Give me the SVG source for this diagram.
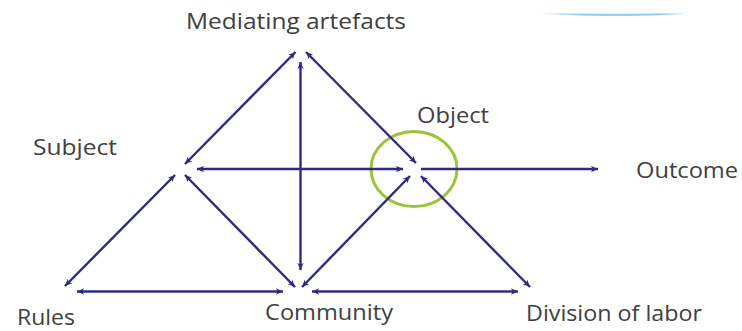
<svg xmlns="http://www.w3.org/2000/svg" width="742" height="331" viewBox="0 0 742 331">
<defs>
<style>
.lbl{font-family:"Open Sans","Noto Sans","Liberation Sans",sans-serif;font-size:21px;fill:#404040}
.ln{stroke:#2f2a82;stroke-width:2.4;fill:none;marker-end:url(#ah)}
.dbl{marker-start:url(#ahs)}
</style>
<marker id="ah" viewBox="0 0 10 10" refX="10" refY="5" markerWidth="9" markerHeight="7" markerUnits="userSpaceOnUse" orient="auto">
<path d="M0,0.5 L10,5 L0,9.5 L2.5,5 Z" fill="#2f2a82"/>
</marker>
<marker id="ahs" viewBox="0 0 10 10" refX="0" refY="5" markerWidth="9" markerHeight="7" markerUnits="userSpaceOnUse" orient="auto">
<path d="M10,0.5 L0,5 L10,9.5 L7.5,5 Z" fill="#2f2a82"/>
</marker>
<linearGradient id="arc" x1="0" x2="1" y1="0" y2="0">
<stop offset="0" stop-color="#8fd0ee" stop-opacity="0"/>
<stop offset="0.3" stop-color="#8fd0ee"/>
<stop offset="0.8" stop-color="#8fd0ee"/>
<stop offset="1" stop-color="#8fd0ee" stop-opacity="0"/>
</linearGradient>
</defs>
<rect width="742" height="331" fill="#ffffff"/>
<path d="M540,13.5 Q615,17.5 690,13.5 Q615,15 540,13.5 Z" fill="url(#arc)" stroke="url(#arc)" stroke-width="1.2"/>
<ellipse cx="414" cy="169" rx="43" ry="37.5" fill="none" stroke="#9dc33b" stroke-width="3"/>
<g id="connectors">
<line class="ln dbl" x1="295.5" y1="52" x2="185" y2="164"/>
<line class="ln dbl" x1="306" y1="52" x2="416" y2="163"/>
<line class="ln dbl" x1="300.5" y1="62" x2="300.5" y2="270"/>
<line class="ln dbl" x1="197" y1="169" x2="403" y2="169"/>
<line class="ln" x1="421" y1="169" x2="598" y2="169"/>
<line class="ln dbl" x1="175" y1="175" x2="65" y2="286"/>
<line class="ln dbl" x1="185" y1="175" x2="295" y2="287"/>
<line class="ln dbl" x1="302" y1="287" x2="410" y2="176"/>
<line class="ln dbl" x1="421" y1="176" x2="530" y2="287"/>
<line class="ln dbl" x1="77" y1="291.5" x2="283" y2="291.5"/>
<line class="ln dbl" x1="312" y1="291.5" x2="518" y2="291.5"/>
</g>
<g id="mediating"><text class="lbl" x="186" y="29" textLength="220" lengthAdjust="spacingAndGlyphs">Mediating artefacts</text></g>
<g id="subject"><text class="lbl" x="33" y="155" textLength="84" lengthAdjust="spacingAndGlyphs">Subject</text></g>
<g id="object"><text class="lbl" x="417" y="123" textLength="72" lengthAdjust="spacingAndGlyphs">Object</text></g>
<g id="outcome"><text class="lbl" x="636" y="178" textLength="102" lengthAdjust="spacingAndGlyphs">Outcome</text></g>
<g id="rules"><text class="lbl" x="17" y="325" textLength="58" lengthAdjust="spacingAndGlyphs">Rules</text></g>
<g id="community"><text class="lbl" x="265" y="320" textLength="128" lengthAdjust="spacingAndGlyphs">Community</text></g>
<g id="division"><text class="lbl" x="526" y="321" textLength="176" lengthAdjust="spacingAndGlyphs">Division of labor</text></g>
</svg>
